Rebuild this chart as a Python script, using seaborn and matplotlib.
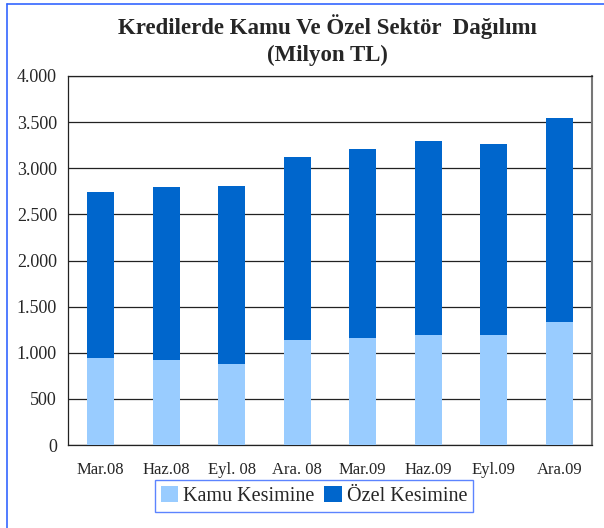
import matplotlib
matplotlib.use("Agg")
import matplotlib.pyplot as plt
import seaborn as sns
import pandas as pd
import numpy as np
from matplotlib.patches import Patch
from matplotlib.lines import Line2D

categories = ["Mar.08", "Haz.08", "Eyl. 08", "Ara. 08", "Mar.09", "Haz.09", "Eyl.09", "Ara.09"]
kamu = [944, 922, 879, 1139, 1161, 1193, 1193, 1334]
ozel = [1800, 1876, 1930, 1985, 2049, 2104, 2072, 2213]
yticks = [0, 500, 1000, 1500, 2000, 2500, 3000, 3500, 4000]
ytick_labels = ["0", "500", "1.000", "1.500", "2.000", "2.500", "3.000", "3.500", "4.000"]

light = "#99CCFF"
dark = "#0066CC"

sns.set_style("white")
plt.rcParams['font.family'] = ['Liberation Serif', 'DejaVu Serif']

df = pd.DataFrame({"cat": categories, "kamu": kamu, "ozel": ozel})
df["total"] = df["kamu"] + df["ozel"]

fig = plt.figure(figsize=(6.04, 5.28), dpi=100)
ax = fig.add_axes([68/604, 1-445/528, (592-68)/604, (445-76)/528])

sns.barplot(data=df, x="cat", y="total", color=dark, width=0.41, ax=ax, saturation=1,
            linewidth=0, edgecolor="none", zorder=3)
sns.barplot(data=df, x="cat", y="kamu", color=light, width=0.41, ax=ax, saturation=1,
            linewidth=0, edgecolor="none", zorder=4)

ax.set_ylim(0, 4000)
ax.set_xlim(-0.5, len(categories) - 0.5)
ax.set_yticks(yticks)
ax.set_yticklabels(ytick_labels, fontsize=13)
ax.set_xticks(range(len(categories)))
ax.set_xticklabels(categories, fontsize=12)
ax.set_xticks(np.arange(-0.5, len(categories)), minor=True)
ax.tick_params(axis='x', which='major', length=0, pad=12)
ax.tick_params(axis='x', which='minor', length=5, width=0.8, color='#333333')
ax.tick_params(axis='y', which='major', length=5, width=0.8, color='#333333', pad=3)
ax.set_xlabel("")
ax.set_ylabel("")
ax.yaxis.grid(True, color="#222222", linewidth=0.9, zorder=0)
ax.set_axisbelow(True)
for s in ["left", "bottom", "top"]:
    ax.spines[s].set_color("#222222")
    ax.spines[s].set_linewidth(0.9)
ax.spines["right"].set_color("#777777")
ax.spines["right"].set_linewidth(1.5)

fig.text(327/604, 1-27/528, "Kredilerde Kamu Ve Özel Sektör  Dağılımı", ha="center", va="center",
         fontsize=16.5, fontweight="bold")
fig.text(327/604, 1-55/528, "(Milyon TL)", ha="center", va="center",
         fontsize=16.5, fontweight="bold")

handles = [Patch(facecolor=light, edgecolor='none', label="Kamu Kesimine"),
           Patch(facecolor=dark, edgecolor='none', label="Özel Kesimine")]
leg = fig.legend(handles=handles, loc="center", bbox_to_anchor=(314/604, 1-496/528), ncol=2,
                 fontsize=14.5, frameon=True, fancybox=False, handlelength=0.85, handleheight=0.85,
                 handletextpad=0.25, columnspacing=0.5, borderpad=0.3, borderaxespad=0)
leg.get_frame().set_edgecolor("#3366FF")
leg.get_frame().set_linewidth(1.0)

fig.add_artist(Line2D([7/604, 7/604], [0, 1-4/528], color="#3366FF", linewidth=1.2))
fig.add_artist(Line2D([7/604, 1], [1-4/528, 1-4/528], color="#3366FF", linewidth=1.2))

fig.savefig("out.png", dpi=100)
